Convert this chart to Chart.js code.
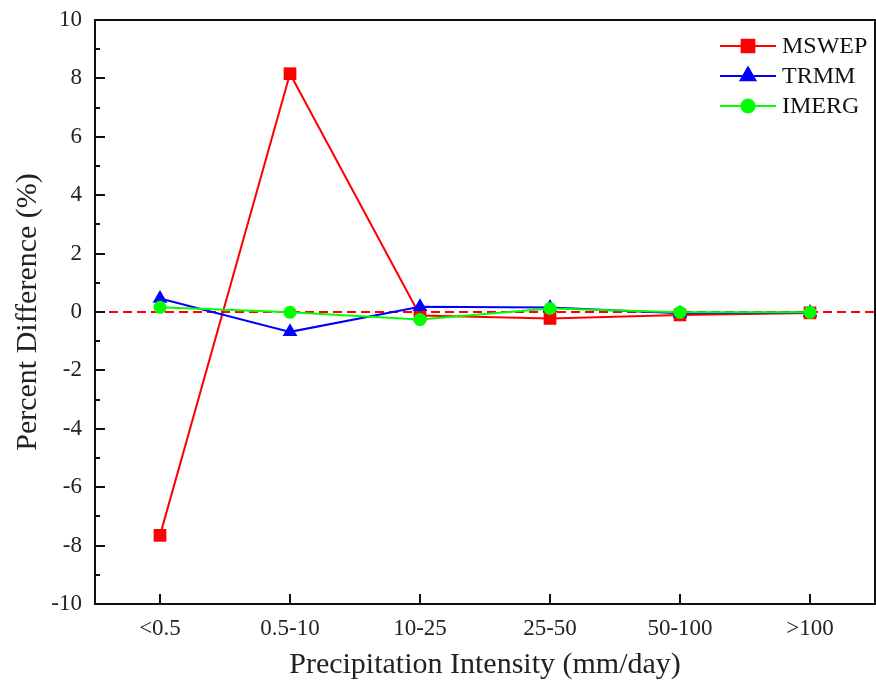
<!DOCTYPE html>
<html><head><meta charset="utf-8">
<script src="https://cdn.jsdelivr.net/npm/chart.js@4.4.1/dist/chart.umd.min.js"></script>
<style>html,body{margin:0;padding:0;background:#fff}#wrap{width:876px;height:684px}</style>
</head><body><div id="wrap"><canvas id="c" width="876" height="684"></canvas></div>
<script>
const categories = ['<0.5', '0.5-10', '10-25', '25-50', '50-100', '>100'];
const mswep = [-7.65, 8.16, -0.12, -0.22, -0.1, -0.03];
const trmm  = [0.46, -0.68, 0.18, 0.15, -0.04, -0.02];
const imerg = [0.16, -0.01, -0.26, 0.12, -0.01, -0.01];
const yTicks = [-10, -8, -6, -4, -2, 0, 2, 4, 6, 8, 10];
const refLine = 0;

const FONT = "'Liberation Serif', 'Times New Roman', serif";
const AREA = {left: 95, top: 20, right: 875, bottom: 604};

const framePlugin = {
  id: 'frame',
  afterLayout(chart) {
    const a = chart.chartArea, x = chart.scales.x, y = chart.scales.y;
    Object.assign(a, AREA, {width: AREA.right - AREA.left, height: AREA.bottom - AREA.top});
    x.left = AREA.left; x.right = AREA.right; x.width = AREA.right - AREA.left;
    x.top = AREA.bottom; x.bottom = chart.height; x.height = chart.height - AREA.bottom;
    x.configure();
    y.left = 0; y.right = AREA.left; y.width = AREA.left;
    y.top = AREA.top; y.bottom = AREA.bottom; y.height = AREA.bottom - AREA.top;
    y.configure();
  },
  beforeDatasetsDraw(chart) {
    const ctx = chart.ctx, a = chart.chartArea, y = chart.scales.y;
    const yy = y.getPixelForValue(refLine);
    ctx.save();
    ctx.strokeStyle = '#ff0000'; ctx.lineWidth = 2; ctx.setLineDash([9, 5]);
    ctx.beginPath(); ctx.moveTo(a.left, yy); ctx.lineTo(a.right, yy); ctx.stroke();
    ctx.restore();
  },
  afterDraw(chart) {
    const ctx = chart.ctx, a = chart.chartArea, x = chart.scales.x, y = chart.scales.y;
    ctx.save();
    ctx.strokeStyle = '#111'; ctx.lineWidth = 2;
    ctx.strokeRect(a.left, a.top, a.right - a.left, a.bottom - a.top);
    ctx.beginPath();
    for (let v = y.min; v <= y.max; v += 1) {
      const p = Math.round(y.getPixelForValue(v));
      const len = (v % 2 === 0) ? 10 : 5;
      ctx.moveTo(a.left, p); ctx.lineTo(a.left + len, p);
    }
    categories.forEach((c, i) => {
      const p = x.getPixelForValue(i);
      ctx.moveTo(p, a.bottom); ctx.lineTo(p, a.bottom - 10);
    });
    ctx.stroke();
    // legend
    const items = chart.data.datasets;
    const lx0 = 720, lx1 = 776, mx = 748, tx = 782;
    const ys = [46, 76, 106];
    items.forEach((ds, i) => {
      const yy = ys[i];
      ctx.strokeStyle = ds.borderColor; ctx.lineWidth = 2; ctx.setLineDash([]);
      ctx.beginPath(); ctx.moveTo(lx0, yy); ctx.lineTo(lx1, yy); ctx.stroke();
      Chart.helpers.drawPoint(ctx, {pointStyle: ds.pointStyle, radius: ds.pointRadius, borderWidth: 1, rotation: 0}, mx, yy);
      ctx.fillStyle = ds.borderColor;
      ctx.fill();
      ctx.fillStyle = '#111'; ctx.font = '24px ' + FONT;
      ctx.textAlign = 'left'; ctx.textBaseline = 'middle';
      ctx.fillText(ds.label, tx, yy + 1);
    });
    ctx.restore();
  }
};

new Chart(document.getElementById('c'), {
  type: 'line',
  data: {
    labels: categories,
    datasets: [
      {label: 'MSWEP', data: mswep, order: 2, borderColor: '#ff0000', backgroundColor: '#ff0000', pointStyle: 'rect', pointRadius: 9, pointBorderWidth: 0, borderWidth: 2, tension: 0},
      {label: 'TRMM', data: trmm, order: 1, borderColor: '#0000ff', backgroundColor: '#0000ff', pointStyle: 'triangle', pointRadius: 8.5, pointBorderWidth: 0, borderWidth: 2, tension: 0},
      {label: 'IMERG', data: imerg, order: 0, borderColor: '#00ff00', backgroundColor: '#00ff00', pointStyle: 'circle', pointRadius: 6.5, pointBorderWidth: 0, borderWidth: 2, tension: 0}
    ]
  },
  options: {
    responsive: false, animation: false,
    layout: {padding: {top: 20, right: 1, left: 0, bottom: 0}},
    plugins: {legend: {display: false}, tooltip: {enabled: false}},
    scales: {
      x: {
        type: 'category', offset: true,
        grid: {display: false, drawTicks: false}, border: {display: false},
        ticks: {color: '#222', font: {family: FONT, size: 23}, padding: 11, maxRotation: 0},
        title: {display: true, text: 'Precipitation Intensity (mm/day)', color: '#222', font: {family: FONT, size: 30}, padding: {top: 0, bottom: 1}},
        afterFit(s) { s.height = 80; }
      },
      y: {
        min: -10, max: 10,
        afterBuildTicks(s) { s.ticks = yTicks.map(v => ({value: v})); },
        grid: {display: false, drawTicks: false}, border: {display: false},
        ticks: {color: '#222', font: {family: FONT, size: 23}, padding: 13},
        title: {display: true, text: 'Percent Difference (%)', color: '#222', font: {family: FONT, size: 30}, padding: {top: 10, bottom: 0}},
        afterFit(s) { s.width = 95; }
      }
    }
  },
  plugins: [framePlugin]
});
</script></body></html>
